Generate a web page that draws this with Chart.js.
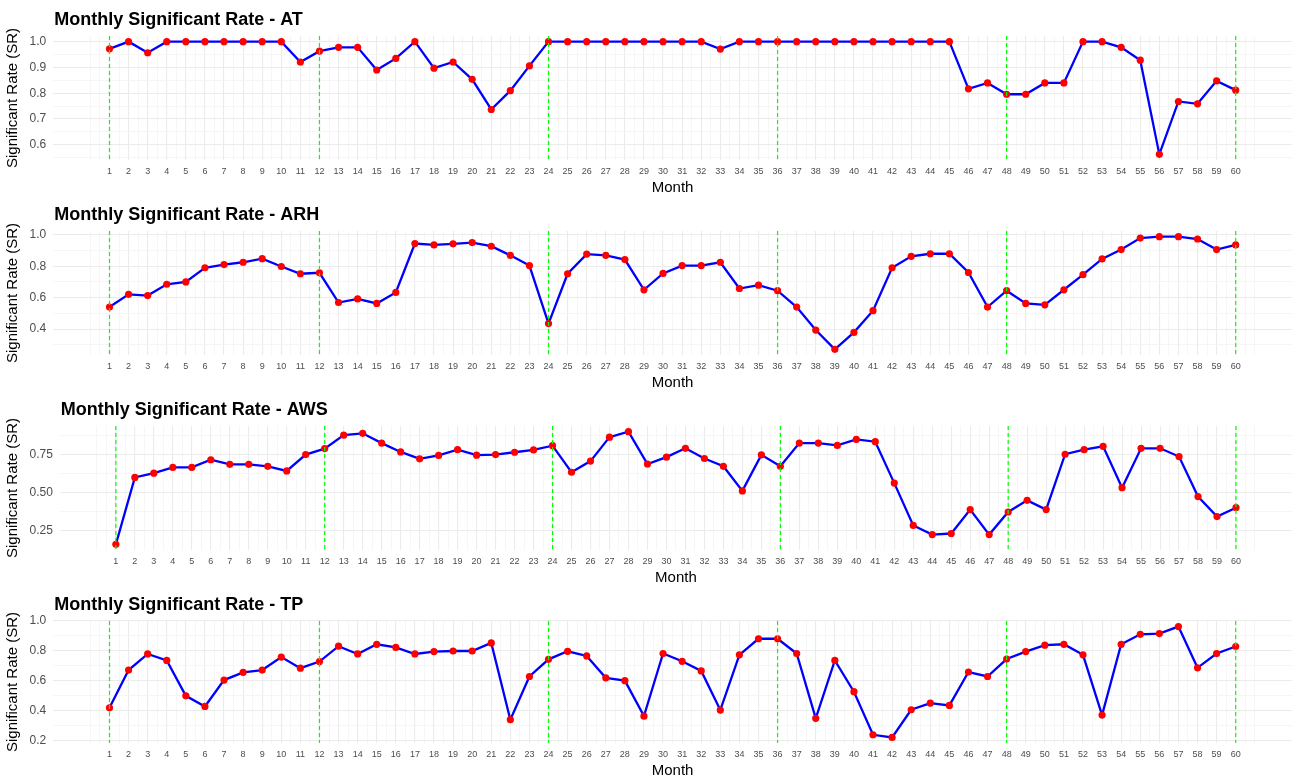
<!DOCTYPE html>
<html>
<head>
<meta charset="utf-8">
<title>Monthly Significant Rate</title>
<script src="https://cdn.jsdelivr.net/npm/chart.js@4.4.1/dist/chart.umd.min.js"></script>
<style>
  html, body { margin: 0; padding: 0; background: #fff; overflow: hidden; }
  #panels { width: 1296px; }
  .panel { position: relative; width: 1296px; }
</style>
</head>
<body>
<div id="panels">
  <div class="panel" style="height:195px"><canvas id="chartAT"></canvas></div>
  <div class="panel" style="height:195px"><canvas id="chartARH"></canvas></div>
  <div class="panel" style="height:195px"><canvas id="chartAWS"></canvas></div>
  <div class="panel" style="height:193px"><canvas id="chartTP"></canvas></div>
</div>
<script>
const months = [1, 2, 3, 4, 5, 6, 7, 8, 9, 10, 11, 12, 13, 14, 15, 16, 17, 18, 19, 20,
  21, 22, 23, 24, 25, 26, 27, 28, 29, 30, 31, 32, 33, 34, 35, 36, 37, 38, 39, 40,
  41, 42, 43, 44, 45, 46, 47, 48, 49, 50, 51, 52, 53, 54, 55, 56, 57, 58, 59, 60];

const atRate = [0.972, 1.0, 0.957, 1.0, 1.0, 1.0, 1.0, 1.0, 1.0, 1.0,
  0.921, 0.963, 0.978, 0.978, 0.89, 0.935, 1.0, 0.897, 0.921, 0.854,
  0.737, 0.81, 0.906, 1.0, 1.0, 1.0, 1.0, 1.0, 1.0, 1.0,
  1.0, 1.0, 0.971, 1.0, 1.0, 1.0, 1.0, 1.0, 1.0, 1.0,
  1.0, 1.0, 1.0, 1.0, 1.0, 0.817, 0.84, 0.796, 0.796, 0.84,
  0.84, 1.0, 1.0, 0.978, 0.928, 0.563, 0.768, 0.759, 0.848, 0.812];

const arhRate = [0.54, 0.621, 0.613, 0.685, 0.70, 0.79, 0.81, 0.825, 0.848, 0.798,
  0.752, 0.758, 0.569, 0.592, 0.563, 0.633, 0.944, 0.935, 0.942, 0.95,
  0.927, 0.869, 0.804, 0.435, 0.752, 0.877, 0.869, 0.842, 0.65, 0.754,
  0.804, 0.804, 0.825, 0.658, 0.679, 0.644, 0.54, 0.394, 0.271, 0.379,
  0.517, 0.79, 0.863, 0.879, 0.879, 0.76, 0.54, 0.644, 0.563, 0.554,
  0.65, 0.746, 0.846, 0.906, 0.979, 0.988, 0.988, 0.973, 0.906, 0.935];

const awsRate = [0.162, 0.60, 0.628, 0.666, 0.666, 0.716, 0.686, 0.686, 0.673, 0.643,
  0.75, 0.789, 0.877, 0.889, 0.825, 0.767, 0.722, 0.744, 0.782, 0.746,
  0.75, 0.765, 0.78, 0.808, 0.634, 0.707, 0.864, 0.90, 0.688, 0.733,
  0.791, 0.724, 0.673, 0.512, 0.748, 0.673, 0.825, 0.825, 0.81, 0.849,
  0.834, 0.563, 0.286, 0.226, 0.233, 0.39, 0.226, 0.374, 0.45, 0.39,
  0.752, 0.782, 0.804, 0.533, 0.791, 0.791, 0.737, 0.475, 0.344, 0.402];

const tpRate = [0.418, 0.671, 0.779, 0.736, 0.498, 0.427, 0.604, 0.656, 0.671, 0.758,
  0.684, 0.728, 0.831, 0.779, 0.844, 0.823, 0.779, 0.795, 0.799, 0.799,
  0.853, 0.338, 0.628, 0.743, 0.797, 0.766, 0.619, 0.60, 0.362, 0.782,
  0.73, 0.665, 0.403, 0.773, 0.881, 0.881, 0.782, 0.347, 0.736, 0.526,
  0.237, 0.219, 0.405, 0.449, 0.434, 0.658, 0.628, 0.745, 0.795, 0.838,
  0.844, 0.773, 0.369, 0.844, 0.911, 0.916, 0.963, 0.686, 0.782, 0.829];

// dashed markers at the start of each year
const yearMarks = [1, 12, 24, 36, 48, 60];

const yLabelsAT = ['0.6', '0.7', '0.8', '0.9', '1.0'];
const yLabelsARH = ['0.4', '0.6', '0.8', '1.0'];
const yLabelsAWS = ['0.25', '0.50', '0.75'];
const yLabelsTP = ['0.2', '0.4', '0.6', '0.8', '1.0'];

Chart.defaults.font.family = '"Liberation Sans", Arial, Helvetica, sans-serif';

const panels = [
  { id: 'chartAT', title: 'Monthly Significant Rate - AT', values: atRate, yLabels: yLabelsAT },
  { id: 'chartARH', title: 'Monthly Significant Rate - ARH', values: arhRate, yLabels: yLabelsARH },
  { id: 'chartAWS', title: 'Monthly Significant Rate - AWS', values: awsRate, yLabels: yLabelsAWS },
  { id: 'chartTP', title: 'Monthly Significant Rate - TP', values: tpRate, yLabels: yLabelsTP }
];

// ggplot-style 5% padding around the data range
function expandRange(lo, hi) {
  const pad = (hi - lo) * 0.05;
  return [lo - pad, hi + pad];
}

// labelled breaks plus unlabelled minor breaks halfway between them
function gridTicks(labels, min, max) {
  const majors = labels.map(Number);
  const step = majors[1] - majors[0];
  const ticks = [];
  const last = majors[majors.length - 1] + step;
  for (let v = majors[0] - step; v <= last + 1e-9; v += step / 2) {
    const val = Math.round(v * 10000) / 10000;
    if (val < min || val > max) continue;
    const idx = majors.findIndex(m => Math.abs(m - val) < 1e-9);
    ticks.push({ value: val, minor: idx < 0, text: idx < 0 ? '' : labels[idx] });
  }
  return ticks;
}

const [xMin, xMax] = expandRange(months[0], months[months.length - 1]);
const xLabels = months.map(String);
const xTicks = [];
for (let v = months[0] - 1; v <= months[months.length - 1] + 1; v += 0.5) {
  const idx = months.indexOf(v);
  xTicks.push({ value: v, minor: idx < 0, text: idx < 0 ? '' : xLabels[idx] });
}

const panelTitle = {
  id: 'panelTitle',
  afterDraw(chart, args, opts) {
    const { ctx, chartArea } = chart;
    ctx.save();
    ctx.font = 'bold 18px "Liberation Sans", Arial, sans-serif';
    ctx.fillStyle = '#000';
    ctx.textBaseline = 'middle';
    ctx.textAlign = 'left';
    ctx.fillText(opts.text, chartArea.left + 1, 20);
    ctx.restore();
  }
};

const yearLines = {
  id: 'yearLines',
  afterDatasetsDraw(chart, args, opts) {
    const { ctx, chartArea, scales } = chart;
    ctx.save();
    ctx.strokeStyle = '#00ff00';
    ctx.lineWidth = 1.2;
    ctx.setLineDash([4, 3]);
    opts.months.forEach(m => {
      const x = scales.x.getPixelForValue(m);
      ctx.beginPath();
      ctx.moveTo(x, chartArea.top);
      ctx.lineTo(x, chartArea.bottom);
      ctx.stroke();
    });
    ctx.restore();
  }
};

const gridColor = ctx => (ctx.tick && ctx.tick.minor ? '#f4f4f4' : '#ebebeb');
const gridWidth = ctx => (ctx.tick && ctx.tick.minor ? 0.8 : 1.1);

// the plot panel runs to the edge of the tick range, no room kept for end labels
const noEdgePadding = scale => {
  scale.paddingTop = 0;
  scale.paddingBottom = 0;
  scale.paddingLeft = 0;
  scale.paddingRight = 0;
};

panels.forEach(p => {
  const [yMin, yMax] = expandRange(Math.min(...p.values), Math.max(...p.values));
  const yTicks = gridTicks(p.yLabels, yMin, yMax);

  new Chart(document.getElementById(p.id), {
    type: 'line',
    data: {
      datasets: [{
        data: months.map((m, i) => ({ x: m, y: p.values[i] })),
        borderColor: '#0000ff',
        borderWidth: 2.3,
        pointBackgroundColor: '#ff0000',
        pointBorderColor: '#ff0000',
        pointBorderWidth: 0,
        pointRadius: 3.6,
        tension: 0
      }]
    },
    options: {
      responsive: true,
      maintainAspectRatio: false,
      animation: false,
      layout: { padding: { top: 36, left: 0, right: 0, bottom: 0 } },
      plugins: {
        legend: { display: false },
        tooltip: { enabled: false },
        panelTitle: { text: p.title },
        yearLines: { months: yearMarks }
      },
      scales: {
        x: {
          type: 'linear',
          min: xMin,
          max: xMax,
          afterBuildTicks: scale => { scale.ticks = xTicks.map(t => ({ ...t })); },
          afterFit: scale => {
            noEdgePadding(scale);
            scale.height = 35; // tick labels + "Month" title
          },
          ticks: {
            autoSkip: false,
            maxRotation: 0,
            minRotation: 0,
            padding: 6,
            color: '#4d4d4d',
            font: { size: 9 },
            callback: (value, i, ticks) => ticks[i].text
          },
          grid: { drawTicks: false, color: gridColor, lineWidth: gridWidth },
          border: { display: false },
          title: {
            display: true,
            text: 'Month',
            color: '#000',
            font: { size: 15 },
            padding: { top: 0, bottom: -2 }
          }
        },
        y: {
          type: 'linear',
          min: yMin,
          max: yMax,
          afterBuildTicks: scale => { scale.ticks = yTicks.map(t => ({ ...t })); },
          afterFit: scale => {
            noEdgePadding(scale);
            scale.width += 1;
          },
          ticks: {
            autoSkip: false,
            padding: 7,
            color: '#4d4d4d',
            font: { size: 12 },
            callback: (value, i, ticks) => ticks[i].text
          },
          grid: { drawTicks: false, color: gridColor, lineWidth: gridWidth },
          border: { display: false },
          title: {
            display: true,
            text: 'Significant Rate (SR)',
            color: '#000',
            font: { size: 15 },
            padding: { top: 3.5, bottom: 0 }
          }
        }
      }
    },
    plugins: [panelTitle, yearLines]
  });
});
</script>
</body>
</html>
